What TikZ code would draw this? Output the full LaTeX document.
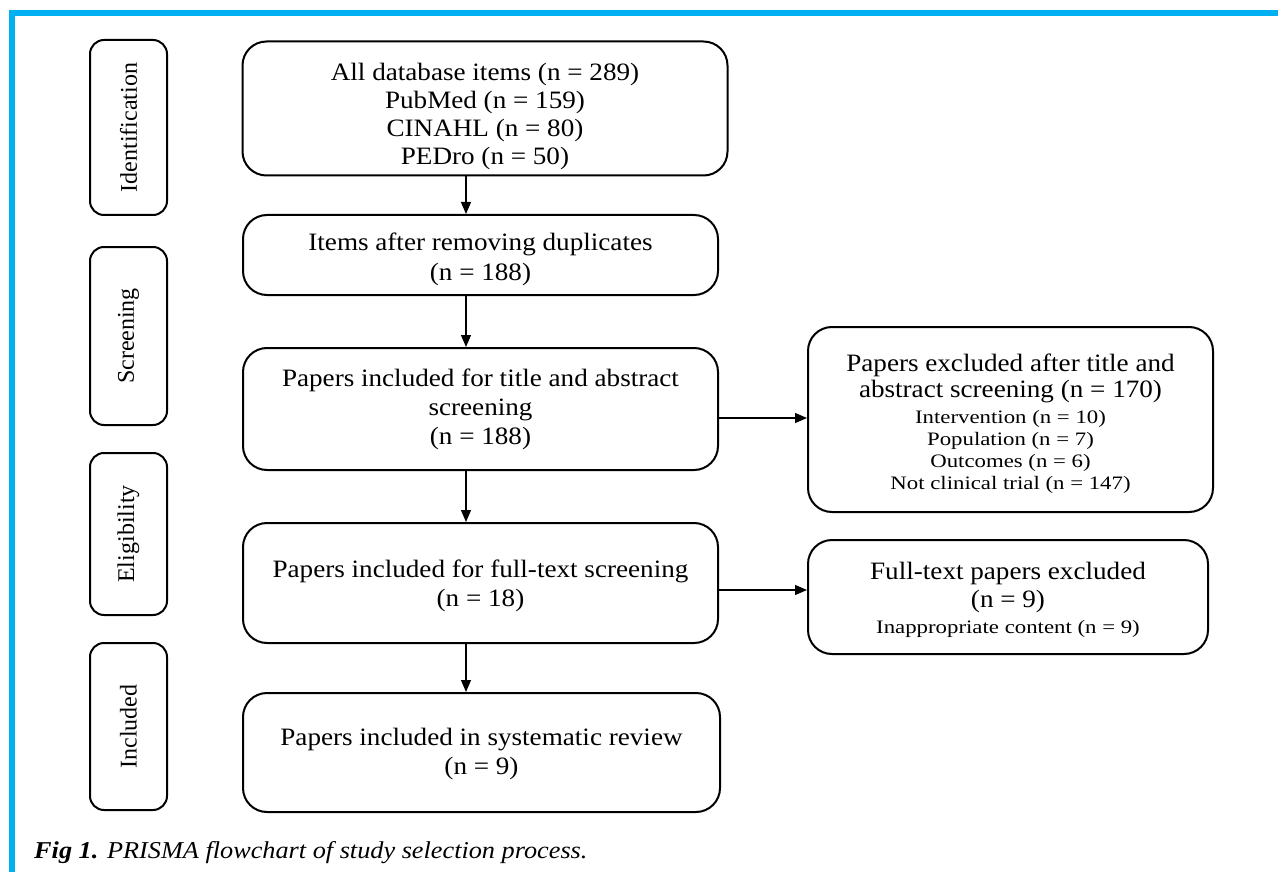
\documentclass[tikz,border=0pt]{standalone}
\usepackage{fontspec}
\setmainfont[FakeStretch=1.085]{Liberation Serif}
\newfontfamily\labfont{Liberation Serif}
\newfontfamily\smallfont[FakeStretch=1.2]{Liberation Serif}
\usetikzlibrary{arrows.meta}
\definecolor{frameblue}{HTML}{00B0F0}
\newcommand{\mystrut}[1]{\rule{0pt}{#1}}
\begin{document}
\begin{tikzpicture}[x=1pt,y=-1pt,
  box/.style={draw, line width=2pt, rounded corners=24pt, align=center, inner sep=0pt,
    font=\fontsize{25}{29}\selectfont},
  lab/.style={draw, line width=2pt, rounded corners=14pt, minimum width=77pt, inner sep=0pt,
    font=\labfont\fontsize{24}{28}\selectfont},
  arr/.style={-{Triangle[length=12pt,width=10pt]}, line width=1.2pt}]
\useasboundingbox (0,0) rectangle (1278,872);
% frame
\fill[frameblue] (9,10) rectangle (1278,16);
\fill[frameblue] (9,10) rectangle (15,872);
% stage labels
\node[lab, minimum height=175pt] (lid) at (128.5,127.5) {\rotatebox{90}{Identification}};
\node[lab, minimum height=178pt] (lsc) at (128.5,336) {\rotatebox{90}{Screening}};
\node[lab, minimum height=162pt] (lel) at (128.5,534) {\rotatebox{90}{Eligibility}};
\node[lab, minimum height=167pt] (lin) at (128.5,726.5) {\rotatebox{90}{Included}};
% main boxes
\node[box, minimum width=485pt, minimum height=134pt, font=\fontsize{25}{28}\selectfont] (b1) at (485,108.5)
  {\mystrut{33.5pt}All database items (n = 289)\\PubMed (n = 159)\\CINAHL (n = 80)\\PEDro (n = 50)};
\node[box, minimum width=475pt, minimum height=80pt, font=\fontsize{25}{30}\selectfont] (b2) at (480.5,255)
  {\mystrut{25.5pt}Items after removing duplicates\\(n = 188)};
\node[box, minimum width=475pt, minimum height=122pt] (b3) at (480.5,409)
  {Papers included for title and abstract\\screening\\(n = 188)};
\node[box, minimum width=475pt, minimum height=120pt] (b4) at (480.5,583)
  {\mystrut{23.5pt}Papers included for full-text screening\\(n = 18)};
\node[box, minimum width=477pt, minimum height=119pt] (b5) at (481.5,752.5)
  {\mystrut{19.5pt}Papers included in systematic review\\(n = 9)};
% exclusion boxes
\node[box, minimum width=405pt, minimum height=185pt, font=\fontsize{25}{26}\selectfont] (r1) at (1010.5,419.5)
  {\mystrut{25.5pt}Papers excluded after title and\\abstract screening (n = 170)\\[0pt]
   {\smallfont\fontsize{19}{22}\selectfont Intervention (n = 10)}\\[-4pt]
   {\smallfont\fontsize{19}{22}\selectfont Population (n = 7)}\\[-4pt]
   {\smallfont\fontsize{19}{22}\selectfont Outcomes (n = 6)}\\[-4pt]
   {\smallfont\fontsize{19}{22}\selectfont Not clinical trial (n = 147)}};
\node[box, minimum width=400pt, minimum height=114pt, font=\fontsize{25}{28}\selectfont] (r2) at (1008,597)
  {\mystrut{23.5pt}Full-text papers excluded\\(n = 9)\\[-2pt]
   {\smallfont\fontsize{19}{22}\selectfont Inappropriate content (n = 9)}};
% arrows
\coordinate (ax) at (466,0);
\coordinate (h1) at (0,418);
\coordinate (h2) at (0,590);
\draw[arr] (b1.south -| ax) -- (b2.north -| ax);
\draw[arr] (b2.south -| ax) -- (b3.north -| ax);
\draw[arr] (b3.south -| ax) -- (b4.north -| ax);
\draw[arr] (b4.south -| ax) -- (b5.north -| ax);
\draw[arr] (b3.east |- h1) -- (r1.west |- h1);
\draw[arr] (b4.east |- h2) -- (r2.west |- h2);
% caption
\node[anchor=base west, inner sep=0pt, font=\fontsize{24.2}{28}\selectfont] (cap) at (34,858)
  {\textbf{\textit{Fig 1.}} \textit{PRISMA flowchart of study selection process.}};
\end{tikzpicture}
\end{document}
